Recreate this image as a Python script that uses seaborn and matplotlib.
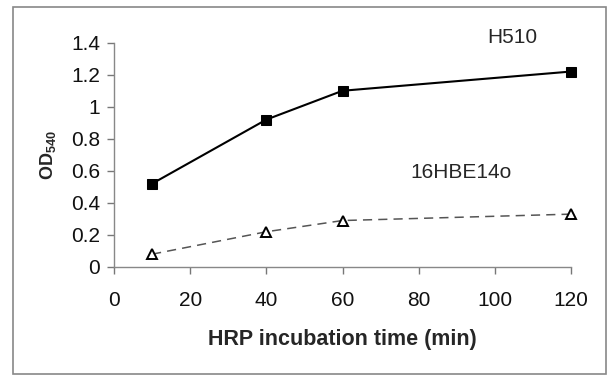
import matplotlib
matplotlib.use("Agg")
import matplotlib.pyplot as plt
import seaborn as sns
import pandas as pd
from matplotlib.patches import Rectangle

time_min = [10, 40, 60, 120]
h510 = [0.52, 0.92, 1.10, 1.22]
hbe = [0.08, 0.22, 0.29, 0.33]
x_ticks = [0, 20, 40, 60, 80, 100, 120]
y_ticks = [0, 0.2, 0.4, 0.6, 0.8, 1.0, 1.2, 1.4]
y_ticklabels = ["0", "0.2", "0.4", "0.6", "0.8", "1", "1.2", "1.4"]

sns.set_theme(style="white")
plt.rcParams['font.family'] = ['Liberation Sans', 'DejaVu Sans']
plt.rcParams['mathtext.fontset'] = 'custom'
plt.rcParams['mathtext.bf'] = 'Liberation Sans:bold'
plt.rcParams['mathtext.rm'] = 'Liberation Sans'

fig = plt.figure(figsize=(6.09, 3.75), dpi=100)
ax = fig.add_axes([114/609, 1 - 267/375, 457/609, 224.3/375])

df1 = pd.DataFrame({"t": time_min, "od": h510})
df2 = pd.DataFrame({"t": time_min, "od": hbe})

sns.lineplot(data=df1, x="t", y="od", ax=ax, color="black", lw=1.5,
             marker="s", markersize=7.5, markeredgecolor="black",
             markerfacecolor="black", clip_on=False)
sns.lineplot(data=df2, x="t", y="od", ax=ax, color="#555555", lw=1.1,
             linestyle=(0, (6, 4)), marker="^", markersize=7.5,
             markeredgecolor="black", markerfacecolor="white",
             markeredgewidth=1.4, clip_on=False)

ax.set_xlim(0, 120)
ax.set_ylim(0, 1.4)
ax.set_xticks(x_ticks)
ax.set_xticklabels([str(v) for v in x_ticks])
ax.set_yticks(y_ticks)
ax.set_yticklabels(y_ticklabels)
ax.tick_params(axis='both', labelsize=15, direction='out', length=5,
               width=1, left=True, bottom=True, colors='#777777',
               labelcolor='#111111')
ax.tick_params(axis='x', pad=12)
ax.tick_params(axis='y', pad=5)
for s in ["top", "right"]:
    ax.spines[s].set_visible(False)
for s in ["left", "bottom"]:
    ax.spines[s].set_color("#888888")
    ax.spines[s].set_linewidth(1)
ax.set_xlabel("HRP incubation time (min)", fontsize=15.5, fontweight='bold',
              labelpad=14)
ax.set_ylabel(r"$\mathbf{OD_{540}}$", fontsize=13, labelpad=9)

ax.text(104.5, 1.43, "H510", fontsize=15, ha='center', va='center')
ax.text(91.2, 0.59, "16HBE14o", fontsize=15, ha='center', va='center')

fig.patches.append(Rectangle((13/609, 1/375), 593/609, 367/375,
                             transform=fig.transFigure, fill=False,
                             edgecolor='#888888', lw=1.2))

fig.savefig("out.png", dpi=100)
